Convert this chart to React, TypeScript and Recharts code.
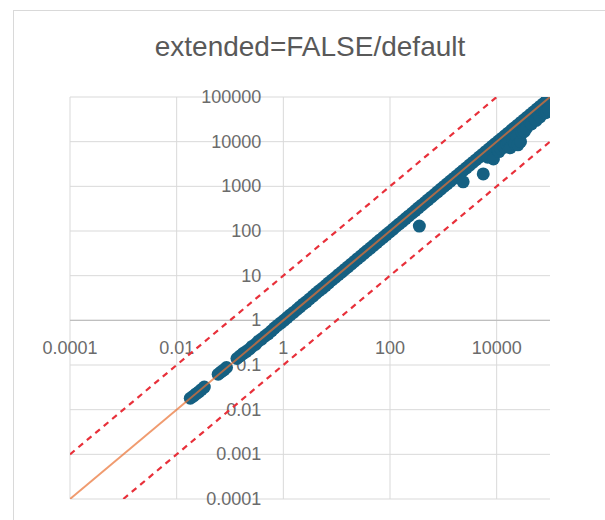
import {
  ReferenceDot,
  ReferenceLine,
  Scatter,
  ScatterChart,
  XAxis,
  YAxis,
} from "recharts";

const xTicks = [0.0001, 0.01, 1, 100, 10000];
const xTickLabels = ["0.0001", "0.01", "1", "100", "10000"];
const yTicks = [0.0001, 0.001, 0.01, 0.1, 1, 10, 100, 1000, 10000, 100000];
const yTickLabels = ["0.0001", "0.001", "0.01", "0.1", "1", "10", "100", "1000", "10000", "100000"];

const samples: [number, number][] = [
  [0.018, 0.018], [0.0205, 0.02], [0.023, 0.0225], [0.026, 0.025], [0.029, 0.028], [0.033, 0.032],
  [0.06, 0.062], [0.068, 0.07], [0.077, 0.078], [0.086, 0.088],
  [0.135, 0.14], [0.155, 0.16], [0.175, 0.18], [0.2, 0.2], [0.23, 0.225], [0.26, 0.26], [0.3, 0.29],
  [0.34, 0.34], [0.39, 0.38], [0.45, 0.44], [0.52, 0.5], [0.6, 0.58], [0.68, 0.67], [0.78, 0.77], [0.9, 0.88],
  [1.03, 1.0], [1.18, 1.15], [1.35, 1.32], [1.55, 1.5], [1.8, 1.75], [2.05, 2.0], [2.35, 2.3], [2.7, 2.6],
  [3.1, 3.0], [3.6, 3.5], [4.1, 4.0], [4.7, 4.6], [5.4, 5.2], [6.2, 6.0], [7.1, 6.9], [8.2, 8.0], [9.4, 9.1],
  [10.8, 10.5], [12.4, 12], [14.2, 13.8], [16.3, 15.8], [18.7, 18.1], [21.5, 20.8], [24.7, 24], [28.4, 27.5],
  [32.6, 31.6], [37.4, 36.2], [43, 41.5], [49.4, 47.8], [56.7, 55], [65, 63], [74.7, 72], [85.8, 83], [98.5, 95],
  [113, 109], [130, 126], [149, 144], [171, 165], [196, 190], [225, 218], [259, 250], [297, 287], [341, 330],
  [392, 378], [450, 434], [517, 498], [593, 572], [681, 657], [782, 754], [898, 866],
  [1030, 995], [1180, 1140], [1360, 1310], [1560, 1500], [1790, 1720], [2060, 1980], [2360, 2270], [2710, 2600],
  [3110, 2990], [3570, 3430], [4100, 3940], [4710, 4520], [5410, 5190], [6210, 5960], [7130, 6840], [8190, 7850],
  [9400, 9000], [10800, 10300], [12400, 11800], [14200, 13500], [16300, 15500], [18700, 17800], [21500, 20400],
  [24700, 23400], [28400, 26900], [32600, 30900], [37400, 35400], [43000, 40700], [49400, 46700], [56700, 53600],
  [65100, 61500], [74700, 70600], [85800, 81000], [90000, 92000],
];

const outliers: [number, number][] = [
  [355, 129], [2350, 1260], [5600, 1900], [6800, 4500], [8700, 4100], [10500, 6500], [11000, 6000],
  [12000, 7000], [13500, 7800], [14000, 7500], [15500, 8800], [17000, 9500], [18000, 7300], [20000, 11000],
  [22000, 9000], [24000, 13000], [25000, 8500], [28000, 10000], [30000, 16000], [33000, 17000], [36000, 20000],
  [42000, 27500], [45000, 25000], [52000, 32000], [55000, 30000], [62000, 40000], [65000, 36000],
  [72000, 46000], [80000, 44000], [87000, 46000], [95000, 52000],
];

const identityLine = [{ x: 0.0001, y: 0.0001 }, { x: 100000, y: 100000 }];
const upperBound = [{ x: 0.0001, y: 0.001 }, { x: 10000, y: 100000 }];
const lowerBound = [{ x: 0.001, y: 0.0001 }, { x: 100000, y: 10000 }];

const points = [...samples, ...outliers].map(([x, y]) => ({ x, y }));

const font = "'Liberation Sans', Arial, sans-serif";
const labelColor = "#6b6b6b";
const gridColor = "#d9d9d9";

const noDot = () => <g />;

export default function App() {
  return (
    <div
      style={{
        position: "absolute",
        left: 0,
        top: 0,
        width: 605,
        height: 520,
        overflow: "hidden",
        background: "#fff",
      }}
    >
      <div
        style={{
          position: "absolute",
          left: 13,
          top: 10,
          width: 620,
          height: 540,
          border: "1px solid #d9d9d9",
        }}
      />
      <div
        style={{
          position: "absolute",
          left: 0,
          top: 30,
          width: 620,
          textAlign: "center",
          fontFamily: font,
          fontSize: 28,
          lineHeight: "34px",
          color: "#595959",
        }}
      >
        extended=FALSE/default
      </div>
      <div style={{ position: "absolute", left: 0, top: 0 }}>
        <ScatterChart width={605} height={520} margin={{ top: 97, right: 55, bottom: 21, left: 70 }}>
          <XAxis
            type="number"
            dataKey="x"
            scale="log"
            domain={[0.0001, 100000]}
            ticks={xTicks}
            allowDataOverflow
            hide
          />
          <YAxis
            type="number"
            dataKey="y"
            scale="log"
            domain={[0.0001, 100000]}
            ticks={yTicks}
            allowDataOverflow
            hide
          />
          {yTicks.map((t) => (
            <ReferenceLine key={"gy" + t} y={t} stroke={gridColor} />
          ))}
          {xTicks.map((t) => (
            <ReferenceLine key={"gx" + t} x={t} stroke={gridColor} />
          ))}
          <ReferenceLine y={1} stroke="#bfbfbf" strokeWidth={1.2} />
          {xTicks.map((t, i) => (
            <ReferenceDot
              key={"x" + t}
              x={t}
              y={1}
              r={0}
              shape={(p: any) => (
                <text
                  x={p.cx}
                  y={p.cy + 28}
                  textAnchor="middle"
                  dominantBaseline="central"
                  fontFamily={font}
                  fontSize={18}
                  fill={labelColor}
                >
                  {xTickLabels[i]}
                </text>
              )}
            />
          ))}
          {yTicks.map((t, i) => (
            <ReferenceDot
              key={"y" + t}
              x={1}
              y={t}
              r={0}
              shape={(p: any) => (
                <text
                  x={p.cx - 22}
                  y={p.cy}
                  textAnchor="end"
                  dominantBaseline="central"
                  fontFamily={font}
                  fontSize={18}
                  fill={labelColor}
                >
                  {yTickLabels[i]}
                </text>
              )}
            />
          ))}
          <Scatter
            data={points}
            isAnimationActive={false}
            shape={(p: any) => <circle cx={p.cx} cy={p.cy} r={6.5} fill="#156082" />}
          />
          <Scatter
            data={identityLine}
            isAnimationActive={false}
            shape={noDot}
            line={{ stroke: "#e97132", strokeWidth: 2, strokeOpacity: 0.7 }}
          />
          <Scatter
            data={upperBound}
            isAnimationActive={false}
            shape={noDot}
            line={{ stroke: "#e8303a", strokeWidth: 2.2, strokeDasharray: "6 5" }}
          />
          <Scatter
            data={lowerBound}
            isAnimationActive={false}
            shape={noDot}
            line={{ stroke: "#e8303a", strokeWidth: 2.2, strokeDasharray: "6 5" }}
          />
        </ScatterChart>
      </div>
    </div>
  );
}
